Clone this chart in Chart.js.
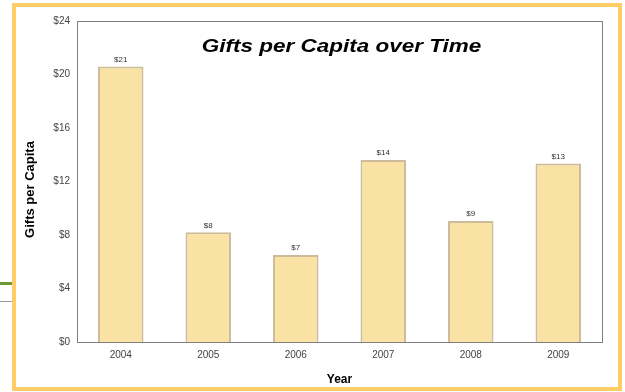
<!DOCTYPE html>
<html>
<head>
<meta charset="utf-8">
<script src="https://cdn.jsdelivr.net/npm/chart.js@4"></script>
<style>
  html, body { margin: 0; padding: 0; background: #fff; }
  body { width: 625px; height: 392px; position: relative; overflow: hidden; font-family: "Liberation Sans", Arial, sans-serif; }
  .frame { position: absolute; left: 12px; top: 3px; width: 610px; height: 388px; box-sizing: border-box; border: 4px solid #FFCC66; background: #fff; }
  .frame div { position: relative; width: 602px; height: 380px; }
  .green { position: absolute; left: 0; top: 282px; width: 12px; height: 3px; background: #6B9B2F; }
  .grey { position: absolute; left: 0; top: 301px; width: 12px; height: 1px; background: #9a9a9a; }
</style>
</head>
<body>
<div class="green"></div>
<div class="grey"></div>
<div class="frame"><div><canvas id="giftschart"></canvas></div></div>
<script>
// Gifts per capita by year
const years = ['2004', '2005', '2006', '2007', '2008', '2009'];
const giftsPerCapita = [20.6, 8.2, 6.5, 13.6, 9.05, 13.35];
const yTicks = [0, 4, 8, 12, 16, 20, 24];

const chartTitle = 'Gifts per Capita over Time';
const yTitle = 'Gifts per Capita';

// draws the box round the plot, the titles and the $ labels on bars
const extras = {
  id: 'extras',
  afterDatasetsDraw(chart) {
    const { ctx, chartArea } = chart;
    ctx.save();
    ctx.strokeStyle = '#808080';
    ctx.lineWidth = 1;
    ctx.strokeRect(Math.round(chartArea.left) + 0.5, Math.round(chartArea.top) + 0.5,
      Math.round(chartArea.right - chartArea.left), Math.round(chartArea.bottom - chartArea.top));

    // title text is wider in the original, stretch it sideways
    ctx.save();
    ctx.translate((chartArea.left + chartArea.right) / 2 + 2, chartArea.top + 31);
    ctx.scale(1.25, 1);
    ctx.fillStyle = '#000';
    ctx.font = 'italic bold 18px "Liberation Sans", Arial, sans-serif';
    ctx.textAlign = 'center';
    ctx.textBaseline = 'alphabetic';
    ctx.fillText(chartTitle, 0, 0);
    ctx.restore();

    // y axis title, sits a little below the middle
    ctx.save();
    ctx.translate(chartArea.left - 47, (chartArea.top + chartArea.bottom) / 2 + 8);
    ctx.rotate(-Math.PI / 2);
    ctx.fillStyle = '#000';
    ctx.font = 'bold 13px "Liberation Sans", Arial, sans-serif';
    ctx.textAlign = 'center';
    ctx.textBaseline = 'middle';
    ctx.fillText(yTitle, 0, 0);
    ctx.restore();

    ctx.font = '8px "Liberation Sans", Arial, sans-serif';
    ctx.fillStyle = '#333';
    ctx.textAlign = 'center';
    ctx.textBaseline = 'bottom';
    chart.getDatasetMeta(0).data.forEach((bar, i) => {
      ctx.fillText('$' + Math.round(giftsPerCapita[i]), bar.x, bar.y - 3);
    });
    ctx.restore();
  }
};

const ctx = document.getElementById('giftschart');

new Chart(ctx, {
  type: 'bar',
  data: {
    labels: years,
    datasets: [{
      label: 'Gifts per Capita',
      data: giftsPerCapita,
      backgroundColor: '#F9E2A3',
      borderColor: '#CDBC9B',
      borderWidth: 2,
      categoryPercentage: 1,
      barPercentage: 0.52
    }]
  },
  options: {
    responsive: true,
    maintainAspectRatio: false,
    animation: false,
    layout: {
      padding: { left: 0, top: 14, right: 16, bottom: 0 }
    },
    plugins: {
      legend: { display: false },
      tooltip: { enabled: false }
    },
    scales: {
      x: {
        grid: { display: false, drawTicks: false },
        border: { display: false },
        ticks: {
          color: '#444',
          padding: 7,
          font: { family: '"Liberation Sans", Arial, sans-serif', size: 10 }
        },
        title: {
          display: true,
          text: 'Year',
          color: '#000',
          padding: { top: 0, bottom: 0 },
          font: { family: '"Liberation Sans", Arial, sans-serif', size: 12, weight: 'bold' }
        },
        afterFit(scale) { scale.height = 45; }
      },
      y: {
        min: 0,
        max: 24,
        grid: { display: false, drawTicks: false },
        border: { display: false },
        afterBuildTicks(scale) {
          scale.ticks = yTicks.map(v => ({ value: v }));
        },
        ticks: {
          color: '#444',
          padding: 7,
          font: { family: '"Liberation Sans", Arial, sans-serif', size: 10 },
          callback: v => '$' + v
        },
        afterFit(scale) { scale.width = 61; }
      }
    }
  },
  plugins: [extras]
});
</script>
</body>
</html>
